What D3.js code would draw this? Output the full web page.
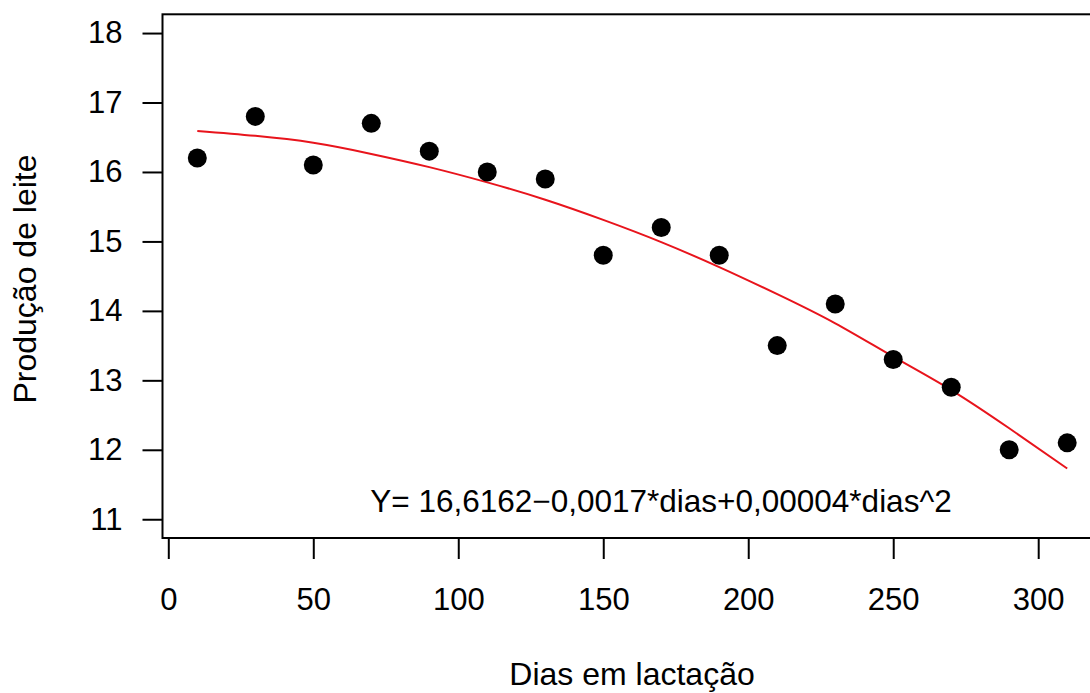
<!DOCTYPE html>
<html>
<head>
<meta charset="utf-8">
<script src="https://cdn.jsdelivr.net/npm/d3@7"></script>
<style>
  html, body { margin: 0; padding: 0; background: #fff; }
  svg { display: block; }
  text { font-family: "Liberation Sans", Arial, sans-serif; fill: #000; }
</style>
</head>
<body>
<div id="chart"></div>
<script>
// dias em lactação e produção observada
const dias = [10, 30, 50, 70, 90, 110, 130, 150, 170, 190, 210, 230, 250, 270, 290, 310];
const producao = [16.2, 16.8, 16.1, 16.7, 16.3, 16.0, 15.9, 14.8, 15.2, 14.8, 13.5, 14.1, 13.3, 12.9, 12.0, 12.1];
// curva ajustada
const ajustado = [16.59, 16.52, 16.42, 16.26, 16.07, 15.85, 15.60, 15.31, 14.99, 14.63, 14.24, 13.82, 13.34, 12.86, 12.31, 11.73];
const xTicks = [0, 50, 100, 150, 200, 250, 300];
const yTicks = [11, 12, 13, 14, 15, 16, 17, 18];
const equacao = "Y= 16,6162\u22120,0017*dias+0,00004*dias^2";

const width = 1090, height = 693;
const box = { left: 162.5, right: 1102, top: 14.3, bottom: 538 };

const svg = d3.select("#chart").append("svg")
    .attr("width", width)
    .attr("height", height);

const x = d3.scaleLinear().domain([-2, 322]).range([box.left, box.right]);
const y = d3.scaleLinear().domain([10.73, 18.27]).range([box.bottom, box.top]);

// eixos
const gx = svg.append("g")
    .attr("transform", `translate(0,${box.bottom})`)
    .call(d3.axisBottom(x).tickValues(xTicks).tickSize(21).tickPadding(29));
const gy = svg.append("g")
    .attr("transform", `translate(${box.left},0)`)
    .call(d3.axisLeft(y).tickValues(yTicks).tickSize(20).tickPadding(20));
[gx, gy].forEach(g => {
    g.select(".domain").remove();
    g.selectAll(".tick line").attr("stroke", "#000").attr("stroke-width", 2);
    g.selectAll(".tick text").style("font-size", "31px").attr("fill", "#000");
});

// caixa
svg.append("rect")
    .attr("x", box.left)
    .attr("y", box.top)
    .attr("width", box.right - box.left)
    .attr("height", box.bottom - box.top)
    .attr("fill", "none")
    .attr("stroke", "#000")
    .attr("stroke-width", 2);

// curva ajustada
const line = d3.line()
    .x((d, i) => x(dias[i]))
    .y(d => y(d))
    .curve(d3.curveNatural);
svg.append("path")
    .datum(ajustado)
    .attr("d", line)
    .attr("fill", "none")
    .attr("stroke", "#e8141c")
    .attr("stroke-width", 2);

// pontos
svg.append("g")
    .selectAll("circle")
    .data(producao)
    .enter()
    .append("circle")
    .attr("cx", (d, i) => x(dias[i]))
    .attr("cy", d => y(d))
    .attr("r", 9.5)
    .attr("fill", "#000");

// equação
svg.append("text")
    .attr("x", 661)
    .attr("y", 512)
    .attr("text-anchor", "middle")
    .style("font-size", "31.5px")
    .text(equacao);

// títulos
svg.append("text")
    .attr("x", 632)
    .attr("y", 685)
    .attr("text-anchor", "middle")
    .style("font-size", "32px")
    .text("Dias em lactação");
svg.append("text")
    .attr("transform", "translate(36,279) rotate(-90)")
    .attr("text-anchor", "middle")
    .style("font-size", "32px")
    .text("Produção de leite");
</script>
</body>
</html>
